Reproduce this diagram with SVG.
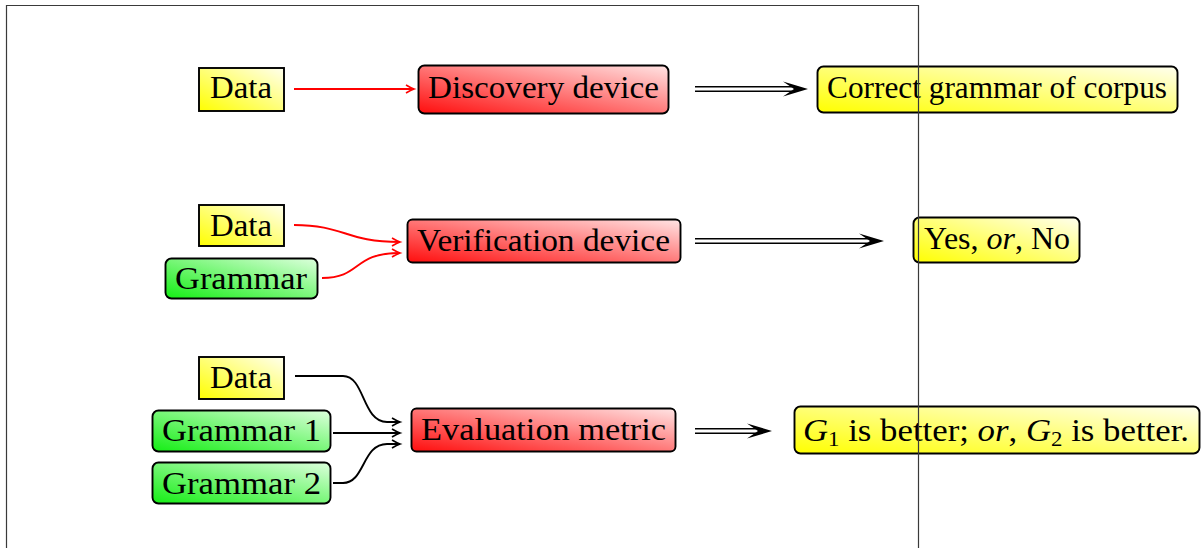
<svg xmlns="http://www.w3.org/2000/svg" width="1201" height="548" viewBox="0 0 1201 548">
  <defs>
    <linearGradient id="gYellow" x1="0" y1="1" x2="1" y2="0">
      <stop offset="0" stop-color="#ffff00"/>
      <stop offset="1" stop-color="#ffffee"/>
    </linearGradient>
    <linearGradient id="gRed" x1="0" y1="1" x2="1" y2="0">
      <stop offset="0" stop-color="#ff0d0d"/>
      <stop offset="1" stop-color="#ffe4e4"/>
    </linearGradient>
    <linearGradient id="gGreen" x1="0" y1="1" x2="1" y2="0">
      <stop offset="0" stop-color="#14ee14"/>
      <stop offset="1" stop-color="#ddffdd"/>
    </linearGradient>
    <marker id="tipRed" markerWidth="12" markerHeight="12" refX="0" refY="0" viewBox="-9 -6 12 12" markerUnits="userSpaceOnUse" orient="auto">
      <path d="M-8,-4 Q-3,-1 0,0 Q-3,1 -8,4" fill="none" stroke="#ff0000" stroke-width="1.6"/>
    </marker>
    <marker id="tipBlack" markerWidth="12" markerHeight="12" refX="0" refY="0" viewBox="-9 -6 12 12" markerUnits="userSpaceOnUse" orient="auto">
      <path d="M-8,-4 Q-3,-1 0,0 Q-3,1 -8,4" fill="none" stroke="#000" stroke-width="1.6"/>
    </marker>
  </defs>
  <style>
    .box { stroke: #000; stroke-width: 1.9; }
    .y { fill: url(#gYellow); }
    .r { fill: url(#gRed); }
    .g { fill: url(#gGreen); }
    text { font-family: "Liberation Serif", "DejaVu Serif", serif; font-size: 32px; fill: #000; }
    .it { font-style: italic; }
    .sub { font-size: 21px; }
    .red { fill: none; stroke: #ff0000; stroke-width: 1.9; marker-end: url(#tipRed); }
    .blk { fill: none; stroke: #000; stroke-width: 1.9; marker-end: url(#tipBlack); }
    .dbl { fill: none; stroke: #000; stroke-width: 1.5; }
    .frame { fill: none; stroke: #3a3a3a; stroke-width: 1.2; }
  </style>

  <rect width="1201" height="548" fill="#fff"/>

  <!-- row 1: discovery -->
  <g id="data1">
    <rect class="box y" x="199" y="68" width="85" height="43"/>
    <text x="210" y="98" textLength="62" lengthAdjust="spacingAndGlyphs">Data</text>
  </g>
  <g id="discovery">
    <rect class="box r" x="418.5" y="65.5" width="250" height="48" rx="6"/>
    <text x="428" y="98" textLength="231" lengthAdjust="spacingAndGlyphs">Discovery device</text>
  </g>
  <g id="correct">
    <rect class="box y" x="817.5" y="66.5" width="360" height="46" rx="6"/>
    <text x="827" y="98" textLength="340" lengthAdjust="spacingAndGlyphs">Correct grammar of corpus</text>
  </g>

  <!-- row 2: verification -->
  <g id="data2">
    <rect class="box y" x="199" y="205" width="85" height="41"/>
    <text x="210" y="236" textLength="62" lengthAdjust="spacingAndGlyphs">Data</text>
  </g>
  <g id="grammar">
    <rect class="box g" x="165.5" y="258.5" width="152" height="40" rx="6"/>
    <text x="175" y="289" textLength="132" lengthAdjust="spacingAndGlyphs">Grammar</text>
  </g>
  <g id="verification">
    <rect class="box r" x="407.5" y="219.5" width="273" height="43" rx="5"/>
    <text x="417" y="251" textLength="253" lengthAdjust="spacingAndGlyphs">Verification device</text>
  </g>
  <g id="yesno">
    <rect class="box y" x="913.5" y="217.5" width="166" height="45" rx="6"/>
    <text x="924" y="249" textLength="146" lengthAdjust="spacingAndGlyphs">Yes, <tspan class="it">or</tspan>, No</text>
  </g>

  <!-- row 3: evaluation -->
  <g id="data3">
    <rect class="box y" x="199" y="357" width="85" height="42"/>
    <text x="210" y="388" textLength="62" lengthAdjust="spacingAndGlyphs">Data</text>
  </g>
  <g id="grammar1">
    <rect class="box g" x="152.5" y="410.5" width="178" height="41" rx="6"/>
    <text x="162" y="441" textLength="159" lengthAdjust="spacingAndGlyphs">Grammar 1</text>
  </g>
  <g id="grammar2">
    <rect class="box g" x="152.5" y="462.5" width="178" height="41" rx="6"/>
    <text x="162" y="494" textLength="159" lengthAdjust="spacingAndGlyphs">Grammar 2</text>
  </g>
  <g id="evaluation">
    <rect class="box r" x="411.5" y="408.5" width="264" height="43" rx="5"/>
    <text x="421" y="440" textLength="245" lengthAdjust="spacingAndGlyphs">Evaluation metric</text>
  </g>
  <g id="better">
    <rect class="box y" x="794.5" y="406.5" width="405" height="47" rx="6"/>
    <text x="803" y="441" textLength="386" lengthAdjust="spacingAndGlyphs"><tspan class="it">G</tspan><tspan class="sub" dy="5">1</tspan><tspan dy="-5"> is better; </tspan><tspan class="it">or</tspan>, <tspan class="it">G</tspan><tspan class="sub" dy="5">2</tspan><tspan dy="-5"> is better.</tspan></text>
  </g>

  <!-- connectors -->
  <g id="connectors">
    <path class="red" d="M294,89 L414,89"/>
    <path class="red" d="M294,225 C345,225 345,242 400,242"/>
    <path class="red" d="M322,278 C362,278 352,253 400,253"/>
    <path class="blk" d="M295,376 L343,376 C365,376 362,422 387,422 L400,422"/>
    <path class="blk" d="M333,433 L400,433"/>
    <path class="blk" d="M333,483 L343,483 C365,483 362,444 387,444 L400,444"/>

    <!-- double-line implication arrows -->
    <path class="dbl" d="M695,86.8 L792,86.8 M695,91.2 L792,91.2"/>
    <path d="M808,89 L783,81.5 L794,89 L783,96.5 Z" fill="#000"/>
    <path class="dbl" d="M695,238.8 L868,238.8 M695,243.2 L868,243.2"/>
    <path d="M884,241 L859,233.5 L870,241 L859,248.5 Z" fill="#000"/>
    <path class="dbl" d="M695,428.8 L756,428.8 M695,433.2 L756,433.2"/>
    <path d="M772,431 L747,423.5 L758,431 L747,438.5 Z" fill="#000"/>
  </g>

  <!-- page frame drawn over the content -->
  <path class="frame" d="M6.5,549 L6.5,5.5 L918.5,5.5 L918.5,549"/>
</svg>
